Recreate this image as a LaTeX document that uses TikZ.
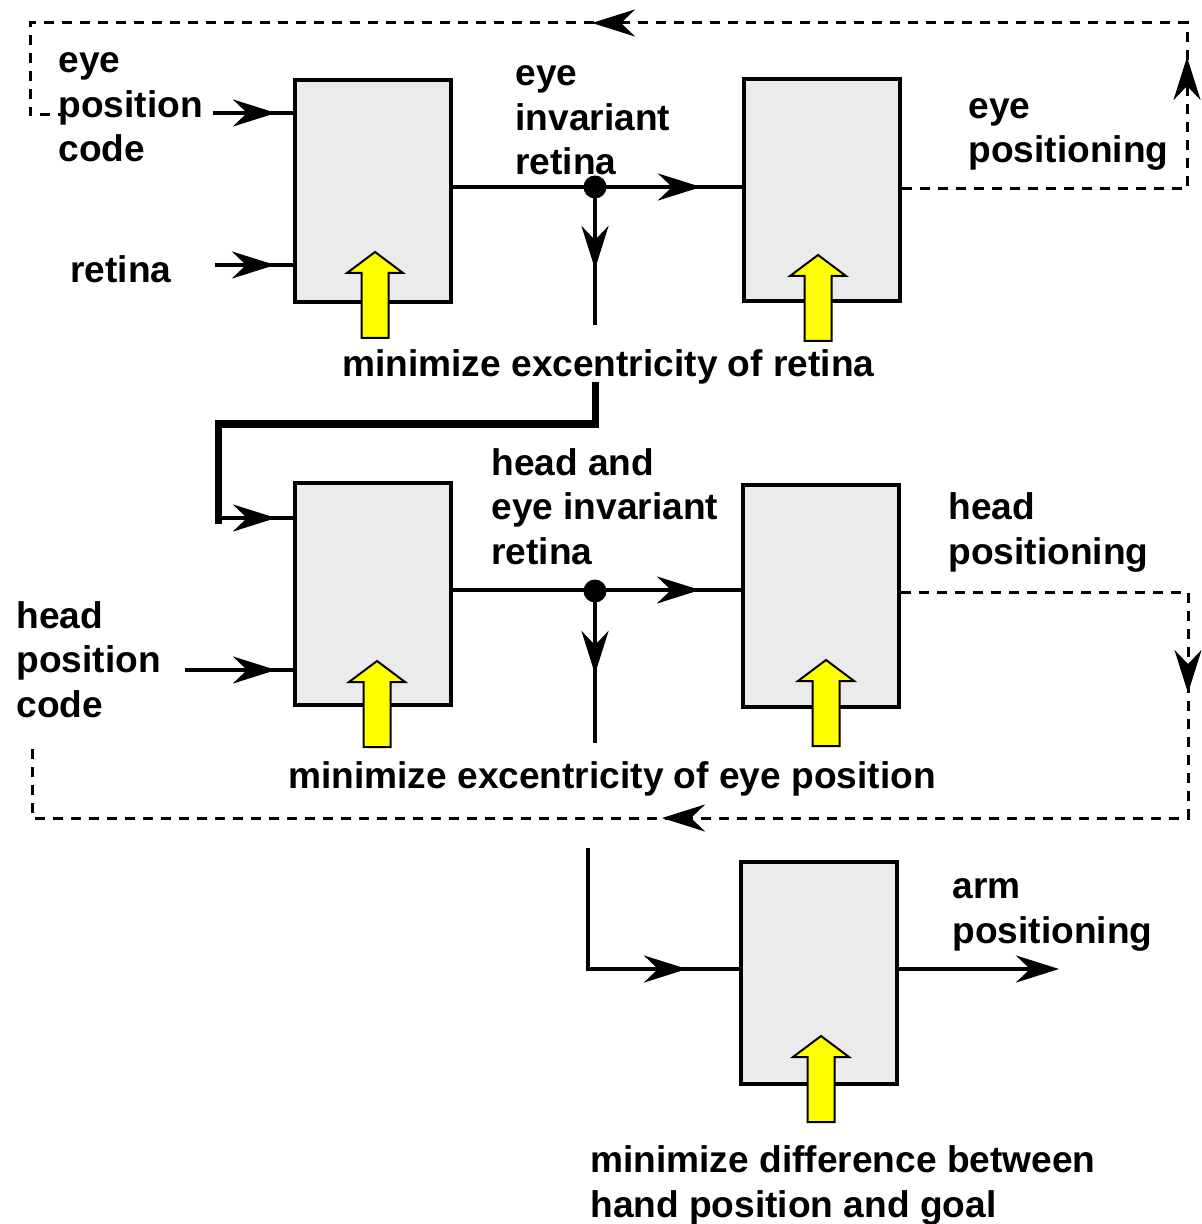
\documentclass[tikz,border=0pt]{standalone}
\usepackage{fontspec}
\setmainfont{Liberation Sans}
\usetikzlibrary{arrows.meta,decorations.markings}
\definecolor{boxgray}{HTML}{EBEBEB}
\definecolor{goalyellow}{HTML}{FFFF00}
\tikzset{
  flowtip/.tip={Stealth[length=21.5pt,width=13.5pt,inset=7pt]},
  blockbox/.style={draw, line width=2pt, fill=boxgray, minimum width=78pt, minimum height=111pt, inner sep=0pt},
  lbl/.style={font=\bfseries\fontsize{18.55}{22.25}\selectfont, align=left, anchor=base west, inner sep=0pt},
  conn/.style={line width=2pt},
  busline/.style={line width=3.5pt},
  fback/.style={line width=1.5pt, dash pattern=on 5pt off 4pt},
  tipat/.style={postaction={decorate, decoration={markings, mark=at position #1 with {\arrow{flowtip}}}}},
  twotips/.style 2 args={postaction={decorate, decoration={markings,
      mark=at position #1 with {\arrow{flowtip}}, mark=at position #2 with {\arrow{flowtip}}}}},
  junction/.style={circle, fill, inner sep=0pt, minimum size=11.5pt},
  goalarrow/.pic={\draw[fill=goalyellow, line width=1pt, line join=miter]
      (0,0) -- (28,21) -- (13.5,21) -- (13.5,86) -- (-13.5,86) -- (-13.5,21) -- (-28,21) -- cycle;}
}
\begin{document}
\begin{tikzpicture}[x=0.5pt, y=-0.5pt]
\useasboundingbox (0,0) rectangle (1202,1224);

% processing blocks
\node[blockbox] (b1) at (373,191) {};
\node[blockbox] (b2) at (822,190) {};
\node[blockbox] (b3) at (373,594) {};
\node[blockbox] (b4) at (821,596) {};
\node[blockbox] (b5) at (819,973) {};

% goal arrows pushing into each block
\pic at (375,252) {goalarrow};
\pic at (818,255) {goalarrow};
\pic at (377,661) {goalarrow};
\pic at (826,660) {goalarrow};
\pic at (821,1036) {goalarrow};

% labels (placed by the baseline of their last line)
\node[lbl] (lEyePos) at (58,162) {eye\\position\\code};
\node[lbl] (lRetina) at (70,283) {retina};
\node[lbl] (lEyeInv) at (515,175) {eye\\invariant\\retina};
\node[lbl] (lEyeOut) at (968,163) {eye\\positioning};
\node[lbl] (lGoal1) at (342,377) {minimize excentricity of retina};
\node[lbl] (lHeadInv) at (491,564) {head and\\eye invariant\\retina};
\node[lbl] (lHeadOut) at (948,564) {head\\positioning};
\node[lbl] (lHeadPos) at (16,717) {head\\position\\code};
\node[lbl] (lGoal2) at (288,788) {minimize excentricity of eye position};
\node[lbl] (lArmOut) at (952,943) {arm\\positioning};
\node[lbl] (lGoal3) at (590,1217) {minimize difference between\\hand position and goal};

% free ends of connectors
\coordinate (inEye) at (213,113);
\coordinate (inRet) at (215,265);
\coordinate (tap1end) at (595,325);
\coordinate (busTop) at (595,386);
\coordinate (busKnee1) at (595,424);
\coordinate (busKnee2) at (218,424);
\coordinate (busEnd) at (218,520);
\coordinate (inHead) at (185,670);
\coordinate (tap2end) at (595,743);
\coordinate (armTop) at (588,848);
\coordinate (armKnee) at (588,969);
\coordinate (armOut) at (1059,969);
\coordinate (fb1a) at (1187,189);
\coordinate (fb1b) at (1187,23);
\coordinate (fb1c) at (30,23);
\coordinate (fb1d) at (30,115);
\coordinate (fb1e) at (65,115);
\coordinate (fb2a) at (1188,592);
\coordinate (fb2b) at (1188,818);
\coordinate (fb2c) at (32,818);
\coordinate (fb2d) at (32,742);

% junction dots
\node[junction] (j1) at (595,187) {};
\node[junction] (j2) at (595,591) {};

% first stage
\draw[conn, tipat=-8.5pt] (inEye) -- (inEye -| b1.west);
\draw[conn, tipat=-9pt] (inRet) -- (inRet -| b1.west);
\draw[conn, tipat=-20.5pt] (b1.east |- j1) -- (b2.west |- j1);
\draw[conn, tipat=41pt] (j1.center) -- (tap1end);

% bus into the second stage
\draw[busline, line cap=rect] (busTop) -- (busKnee1) -- (busKnee2) -- (busEnd);

% second stage
\draw[conn, tipat=-8.5pt] (busKnee2 |- 0,518) -- (b3.west |- 0,518);
\draw[conn, tipat=-8.5pt] (inHead) -- (inHead -| b3.west);
\draw[conn, tipat=-20.5pt] (b3.east |- 0,590) -- (b4.west |- 0,590);
\draw[conn, tipat=41.5pt] (j2.center) -- (tap2end);

% third stage
\draw[conn, tipat=-26pt] (armTop) -- (armKnee) -- (armKnee -| b5.west);
\draw[conn, -flowtip] (b5.east |- armOut) -- (armOut);

% feedback loops
\draw[fback, twotips={208.5pt}{523pt}] (b2.east |- fb1a) -- (fb1a) -- (fb1b) -- (fb1c) -- (fb1d) -- (fb1e);
\draw[fback, twotips={194pt}{519.5pt}] (b4.east |- fb2a) -- (fb2a) -- (fb2b) -- (fb2c) -- (fb2d);
\end{tikzpicture}
\end{document}
